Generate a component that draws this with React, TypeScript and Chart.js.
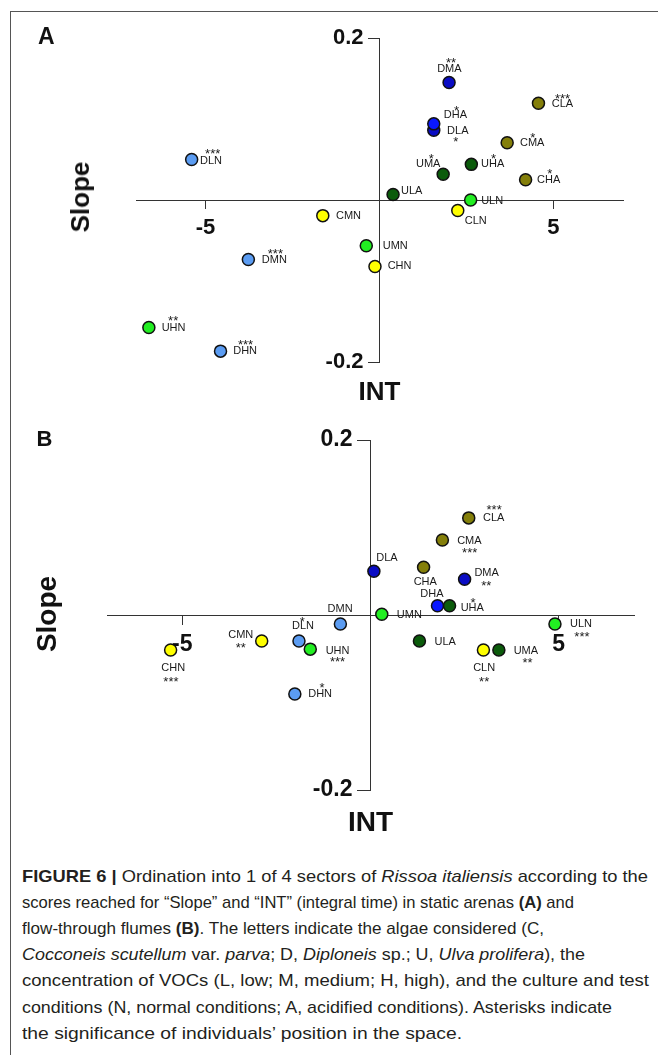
import React, { useEffect, useLayoutEffect, useRef } from 'react';
import { Chart, registerables } from 'chart.js';

Chart.register(...registerables);

// ---------- DATA ----------
const pointNames = ['DLN', 'DMN', 'DHN', 'CLN', 'CMN', 'CHN', 'ULN', 'UMN', 'UHN', 'DLA', 'DMA', 'DHA', 'CLA', 'CMA', 'CHA', 'ULA', 'UMA', 'UHA'];

// Panel A (static arenas)
const intA = [-5.4, -3.77, -4.57, 2.25, -1.63, -0.13, 2.62, -0.38, -6.63, 1.56, 2.0, 1.56, 4.57, 3.67, 4.2, 0.39, 1.83, 2.64];
const slopeA = [0.05, -0.0735, -0.1866, -0.013, -0.0193, -0.082, 0.0, -0.0565, -0.1575, 0.086, 0.145, 0.094, 0.1195, 0.0706, 0.025, 0.0068, 0.0317, 0.044];
const starsA = ['***', '***', '***', '', '', '', '', '', '**', '*', '**', '*', '***', '*', '*', '', '*', '*'];

// Panel B (flow-through flumes)
const intB = [-1.9, -0.8, -2.01, 3.0, -2.89, -5.31, 4.9, 0.3, -1.6, 0.09, 2.5, 1.78, 2.61, 1.91, 1.41, 1.3, 3.41, 2.1];
const slopeB = [-0.0297, -0.0103, -0.0903, -0.04, -0.0297, -0.04, -0.0103, 0.0008, -0.039, 0.05, 0.0408, 0.0106, 0.111, 0.0857, 0.0545, -0.0297, -0.04, 0.0106];
const starsB = ['*', '', '*', '**', '**', '***', '***', '', '***', '', '**', '', '***', '***', '', '', '**', '*'];

const xRange = [-7, 7];
const yRange = [-0.2, 0.2];
const xTickValues = [-5, 5];
const xTickLabels = ['-5', '5'];
const yTickValues = [-0.2, 0.2];
const yTickLabels = ['-0.2', '0.2'];

// ---------- STYLE ----------
// label placement relative to the point, px: [nameDx, nameDy, starDx, starDy]
const labelPosA = [
  [19.3, 1, 21, -8.7], [26, 0, 27, -9], [24.6, 0.3, 25, -10], [18, 10, 0, 0], [25.7, 0, 0, 0], [24.6, 0, 0, 0],
  [21.5, 0.5, 0, 0], [29, 0.7, 0, 0], [24.7, 0.4, 24.3, -9.7], [24, 0.7, 22, 8.7], [0.3, -13.4, 2, -22.7], [21.7, -9, 22.7, -16.7],
  [24, 0.4, 24, -7.3], [25, 0.6, 25.6, -8], [23, 0, 24.3, -9.3], [18.6, -4, 0, 0], [-15, -10, -12, -18.7], [21.3, 0, 22.3, -8.7],
];
const labelPosB = [
  [4, -15, 3.3, -22.7], [-0.3, -15, 0, 0], [25.3, 0, 27.3, -9.3], [0.7, 18, 0.7, 28.7], [-21, -6.3, -21, 4], [2.6, 17.7, 0.3, 29],
  [26, 0, 27, 9.7], [27.6, 0.7, 0, 0], [27.3, 1.4, 27.3, 9.7], [13, -13.6, 0, 0], [22, -6, 21.7, 3.4], [-5.6, -11.7, 0, 0],
  [25, 0.3, 25.4, -11], [27, 0.7, 27.3, 9.7], [1.7, 14.4, 0, 0], [25.7, 0.7, 0, 0], [27, 0.7, 28.6, 9.7], [22.7, 2.6, 23.4, -5.7],
];

const FONT = '"Liberation Sans", Arial, Helvetica, sans-serif';

const colorOf = (name: string) => {
  const alga = name[0];
  const cond = name[2];
  if (cond === 'N') {
    if (alga === 'D') return '#5b9cf2';
    if (alga === 'U') return '#22ee22';
    return '#ffff00';
  }
  if (alga === 'D') return name[1] === 'H' ? '#0a18ff' : '#0a0cc4';
  if (alga === 'U') return '#0b5b0b';
  return '#847f0a';
};

const labelPlugin = {
  id: 'ptLabels',
  afterDatasetsDraw(chart: any, _args: any, opts: any) {
    const ctx = chart.ctx;
    const meta = chart.getDatasetMeta(0);
    ctx.save();
    ctx.fillStyle = '#1a1a1a';
    ctx.textAlign = 'center';
    meta.data.forEach((el: any, i: number) => {
      const { x, y } = el.getProps(['x', 'y'], true);
      const p = opts.pos[i];
      ctx.font = `11px ${FONT}`;
      ctx.textBaseline = 'middle';
      ctx.fillText(opts.names[i], x + p[0], y + p[1]);
      if (opts.stars[i]) {
        ctx.font = `13px ${FONT}`;
        ctx.textBaseline = 'alphabetic';
        ctx.fillText(opts.stars[i], x + p[2], y + p[3] + 7.4);
      }
    });
    ctx.restore();
  },
};

type PanelProps = {
  xs: number[]; ys: number[]; stars: string[]; pos: number[][];
  top: number; height: number;
  pad: { left: number; right: number; top: number; bottom: number };
  tickSize: number; xTl: number; yTl: number;
};

function Panel({ xs, ys, stars, pos, top, height, pad, tickSize, xTl, yTl }: PanelProps) {
  const ref = useRef<HTMLCanvasElement | null>(null);
  useEffect(() => {
    if (!ref.current) return;
    const chart = new Chart(ref.current, {
      type: 'scatter',
      data: {
        datasets: [{
          data: xs.map((x, i) => ({ x, y: ys[i] })),
          backgroundColor: pointNames.map(colorOf),
          borderColor: '#111111',
          borderWidth: 1.5,
          pointRadius: 6,
          pointHoverRadius: 6,
        }],
      },
      options: {
        responsive: false,
        animation: false,
        devicePixelRatio: 1,
        events: [],
        layout: { padding: pad },
        plugins: {
          legend: { display: false },
          tooltip: { enabled: false },
          // @ts-ignore
          ptLabels: { names: pointNames, stars, pos },
        },
        scales: {
          x: {
            type: 'linear',
            position: 'center',
            min: xRange[0],
            max: xRange[1],
            afterBuildTicks: (s: any) => { s.ticks = xTickValues.map((v) => ({ value: v })); },
            ticks: {
              callback: (_v: any, i: number) => xTickLabels[i],
              font: { family: FONT, size: tickSize, weight: 'bold' },
              color: '#111111',
              padding: 7,
              autoSkip: false,
              maxRotation: 0,
            },
            grid: { drawOnChartArea: false, drawTicks: true, tickLength: xTl, color: '#333333', lineWidth: 1 },
            border: { display: true, color: '#333333', width: 1 },
          },
          y: {
            type: 'linear',
            position: 'center',
            min: yRange[0],
            max: yRange[1],
            afterBuildTicks: (s: any) => { s.ticks = yTickValues.map((v) => ({ value: v })); },
            ticks: {
              callback: (_v: any, i: number) => yTickLabels[i],
              font: { family: FONT, size: tickSize, weight: 'bold' },
              color: '#111111',
              padding: 5,
              autoSkip: false,
            },
            grid: { drawOnChartArea: false, drawTicks: true, tickLength: yTl, color: '#333333', lineWidth: 1 },
            border: { display: true, color: '#333333', width: 1 },
          },
        },
      } as any,
      plugins: [labelPlugin as any],
    });
    return () => chart.destroy();
  }, []);
  return (
    <canvas
      ref={ref}
      width={658}
      height={height}
      style={{ position: 'absolute', left: 0, top, width: 658, height, display: 'block' }}
    />
  );
}

const boldText = (text: string, size: number, left: number, capTop: number, center = false) => (
  <div
    style={{
      position: 'absolute',
      left,
      top: capTop - 0.1305 * size,
      fontFamily: FONT,
      fontWeight: 'bold',
      fontSize: size,
      lineHeight: `${size}px`,
      color: '#111',
      whiteSpace: 'nowrap',
      transform: center ? 'translateX(-50%)' : undefined,
    }}
  >
    {text}
  </div>
);

const slopeText = (size: number, cx: number, cy: number) => (
  <div
    style={{
      position: 'absolute',
      left: cx - 0.0865 * size,
      top: cy,
      fontFamily: FONT,
      fontWeight: 'bold',
      fontSize: size,
      lineHeight: `${size}px`,
      color: '#111',
      whiteSpace: 'nowrap',
      transform: 'translate(-50%, -50%) rotate(-90deg)',
    }}
  >
    Slope
  </div>
);

const captionEnds = [648, 574, 544, 585, 649, 612, 462];

function Caption() {
  const refs = useRef<(HTMLSpanElement | null)[]>([]);
  useLayoutEffect(() => {
    refs.current.forEach((el, i) => {
      if (!el) return;
      el.style.transform = 'none';
      const w = el.getBoundingClientRect().width;
      const target = captionEnds[i] - 22;
      el.style.transform = `scaleX(${target / w})`;
    });
  }, []);
  const lines: React.ReactNode[] = [
    <><b>FIGURE 6 |</b> Ordination into 1 of 4 sectors of <i>Rissoa italiensis</i> according to the</>,
    <>scores reached for “Slope” and “INT” (integral time) in static arenas <b>(A)</b> and</>,
    <>flow-through flumes <b>(B)</b>. The letters indicate the algae considered (C,</>,
    <><i>Cocconeis scutellum</i> var. <i>parva</i>; D, <i>Diploneis</i> sp.; U, <i>Ulva prolifera</i>), the</>,
    <>concentration of VOCs (L, low; M, medium; H, high), and the culture and test</>,
    <>conditions (N, normal conditions; A, acidified conditions). Asterisks indicate</>,
    <>the significance of individuals’ position in the space.</>,
  ];
  return (
    <>
      {lines.map((ln, i) => (
        <div
          key={i}
          style={{
            position: 'absolute',
            left: 22,
            top: 864 + i * 26.1,
            height: 26,
            lineHeight: '26px',
            fontFamily: FONT,
            fontSize: 17,
            color: '#231f20',
            whiteSpace: 'nowrap',
          }}
        >
          <span
            ref={(el) => { refs.current[i] = el; }}
            style={{ display: 'inline-block', transformOrigin: '0 50%' }}
          >
            {ln}
          </span>
        </div>
      ))}
    </>
  );
}

export default function App() {
  return (
    <div
      style={{
        position: 'absolute',
        left: 0,
        top: 0,
        width: 658,
        height: 1055,
        background: '#ffffff',
        overflow: 'hidden',
      }}
    >
      <div
        style={{
          position: 'absolute',
          left: 10,
          top: 11,
          width: 660,
          height: 1060,
          borderTop: '1px solid #555',
          borderLeft: '1px solid #555',
        }}
      />
      <Panel
        xs={intA} ys={slopeA} stars={starsA} pos={labelPosA}
        top={0} height={410}
        pad={{ left: 136, right: 35, top: 38, bottom: 48 }}
        tickSize={22} xTl={8} yTl={11}
      />
      <Panel
        xs={intB} ys={slopeB} stars={starsB} pos={labelPosB}
        top={410} height={430}
        pad={{ left: 107, right: 24, top: 30, bottom: 50 }}
        tickSize={23} xTl={9} yTl={13}
      />
      {boldText('A', 23, 38, 28.3)}
      {boldText('B', 22, 36.5, 430.7)}
      {boldText('INT', 26, 379.5, 381.7, true)}
      {boldText('INT', 28, 370.5, 811.7, true)}
      {slopeText(26, 82, 197)}
      {slopeText(28, 49, 614)}
      <Caption />
    </div>
  );
}
